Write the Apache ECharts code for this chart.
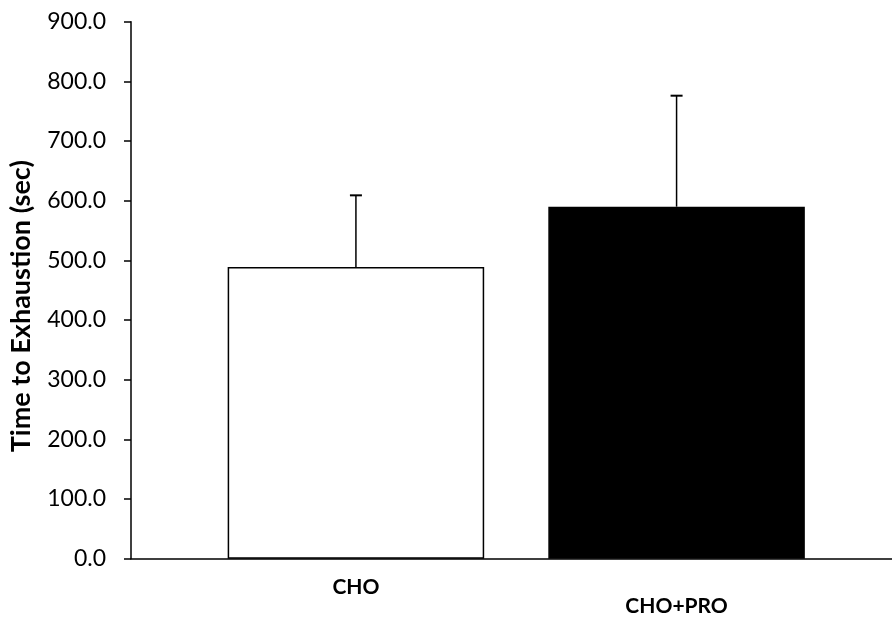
<!DOCTYPE html>
<html>
<head>
<meta charset="utf-8">
<script src="https://cdn.jsdelivr.net/npm/echarts@6/dist/echarts.min.js"></script>
<style>html,body{margin:0;padding:0;background:#fff}#c{width:892px;height:621px}</style>
</head>
<body>
<div id="c"></div>
<script>
var categories = ['CHO', 'CHO+PRO'];
var means = [489, 590];
var errUpper = [609, 776];
var yTicks = [0, 100, 200, 300, 400, 500, 600, 700, 800, 900];

var chart = echarts.init(document.getElementById('c'), null, {renderer: 'canvas'});
var FONT = 'Lato';
var TOP = 21.7, BOTTOM = 62.3;
var option = {
  animation: false,
  backgroundColor: '#fff',
  grid: [
    {left: 131, right: 0, top: TOP, bottom: BOTTOM, containLabel: false, outerBoundsMode: 'none'},
    {left: 195.6, width: 641.3, top: TOP, bottom: BOTTOM, containLabel: false, outerBoundsMode: 'none'}
  ],
  xAxis: [
    {gridIndex: 0, type: 'value', min: 0, max: 1, show: true,
      axisLine: {show: true, onZero: false, lineStyle: {color: '#000', width: 1.5}},
      axisTick: {show: false}, axisLabel: {show: false}, splitLine: {show: false}},
    {gridIndex: 1, type: 'category', data: categories,
      axisLine: {show: false}, axisTick: {show: false}, splitLine: {show: false},
      axisLabel: {show: true, margin: 18, fontFamily: FONT, fontSize: 21, fontWeight: 'bold', color: '#000',
        formatter: function (v, i) { return i === 1 ? '{b|' + v + '}' : '{a|' + v + '}'; },
        rich: {
          a: {fontFamily: FONT, fontSize: 21, fontWeight: 'bold', color: '#000'},
          b: {fontFamily: FONT, fontSize: 21, fontWeight: 'bold', color: '#000', padding: [19, 0, 0, 0]}
        }}}
  ],
  yAxis: [
    {gridIndex: 0, type: 'value', min: yTicks[0], max: yTicks[yTicks.length - 1], interval: 100,
      name: 'Time to Exhaustion (sec)', nameLocation: 'middle', nameGap: 96, nameRotate: 90,
      nameTextStyle: {fontFamily: FONT, fontSize: 27, fontWeight: 'bold', color: '#000', padding: [0, 32, 0, 0]},
      axisLine: {show: true, lineStyle: {color: '#000', width: 1.5}},
      axisTick: {show: true, inside: false, length: 7, lineStyle: {color: '#000', width: 1.5}},
      axisLabel: {margin: 25, fontFamily: FONT, fontSize: 23, color: '#000',
        formatter: function (v) { return v.toFixed(1); }},
      splitLine: {show: false}},
    {gridIndex: 1, type: 'value', min: yTicks[0], max: yTicks[yTicks.length - 1], show: false}
  ],
  series: [
    {type: 'bar', xAxisIndex: 1, yAxisIndex: 1, barCategoryGap: '20%',
      data: means.map(function (v, i) {
        return {value: v, itemStyle: i === 0
          ? {color: '#fff', borderColor: '#000', borderWidth: 1.5}
          : {color: '#000', borderColor: '#000', borderWidth: 1.5}};
      }), z: 2},
    {type: 'custom', xAxisIndex: 1, yAxisIndex: 1, z: 1,
      data: categories.map(function (c, i) { return [i, means[i], errUpper[i]]; }),
      renderItem: function (params, api) {
        var base = api.coord([api.value(0), api.value(1)]);
        var top = api.coord([api.value(0), api.value(2)]);
        var hw = 6;
        return {type: 'group', children: [
          {type: 'line', shape: {x1: base[0], y1: base[1], x2: top[0], y2: top[1]},
            style: {stroke: '#000', lineWidth: 1.5}},
          {type: 'line', shape: {x1: top[0] - hw, y1: top[1], x2: top[0] + hw, y2: top[1]},
            style: {stroke: '#000', lineWidth: 2}}
        ]};
      }}
  ]
};
chart.setOption(option);
</script>
</body>
</html>
